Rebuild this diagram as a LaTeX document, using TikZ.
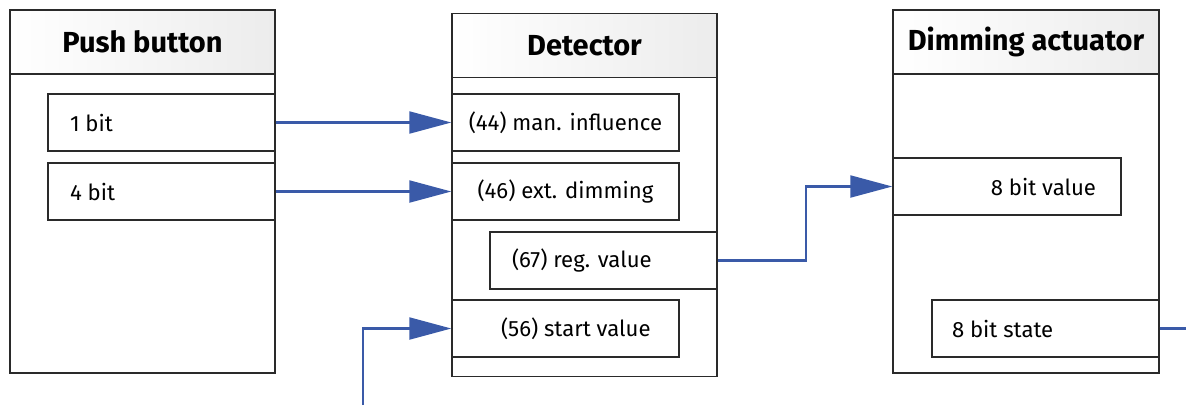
\documentclass[tikz,border=0pt]{standalone}
\usepackage{fontspec}
\setmainfont{Fira Sans}
\usepackage{tikz}
\usetikzlibrary{arrows.meta,calc}
\definecolor{flowblue}{HTML}{3a5aa8}
\definecolor{framegray}{HTML}{2a2a2a}
\definecolor{headgray}{HTML}{ececec}

\begin{document}
\begin{tikzpicture}[
    line width=0.8pt,
    unit/.style={draw=framegray, rectangle, minimum width=5.3cm, minimum height=7.26cm, inner sep=0pt},
    head/.style={draw=framegray, rectangle, left color=white, right color=headgray,
                 minimum width=5.3cm, minimum height=1.28cm, anchor=north,
                 font=\fontsize{16.5}{18}\selectfont\bfseries},
    port/.style={draw=framegray, fill=white, rectangle, minimum width=4.54cm, minimum height=1.14cm, inner sep=0pt},
    portlbl/.style={font=\fontsize{12.6}{15}\selectfont, inner sep=0pt},
    flow/.style={draw=flowblue, line width=1.2pt, -{Triangle[length=0.84cm,width=0.44cm]}}
  ]
\useasboundingbox (0,0) rectangle (23.72,-8.1);

% ---------------- left: push button ---------------------------------------
\node[unit] (pb) at (2.85,-3.83) {};
\node[head] (pbh) at (pb.north) {Push button};
\node[port] (p1) at (3.23,-2.45) {};
\node[port] (p4) at (3.23,-3.83) {};
\node[portlbl, anchor=west] at ([xshift=0.44cm]p1.west) {1 bit};
\node[portlbl, anchor=west] at ([xshift=0.44cm]p4.west) {4 bit};

% ---------------- middle: detector ----------------------------------------
\node[unit] (det) at (11.69,-3.90) {};
\node[head] (deth) at (det.north) {Detector};
\node[port] (p44) at (11.31,-2.45) {};
\node[port] (p46) at (11.31,-3.83) {};
\node[port] (p67) at (12.07,-5.21) {};
\node[port] (p56) at (11.31,-6.57) {};
\node[portlbl] at (p44.center) {(44) man. influence};
\node[portlbl] at (p46.center) {(46) ext. dimming};
\node[portlbl, anchor=west] at ([xshift=0.44cm]p67.west) {(67) reg. value};
\node[portlbl, anchor=west] at ([xshift=0.98cm]p56.west) {(56) start value};

% ---------------- right: dimming actuator ---------------------------------
\node[unit, minimum width=5.32cm] (dim) at (20.52,-3.83) {};
\node[head, minimum width=5.32cm] (dimh) at (dim.north) {Dimming actuator};
\node[port, minimum width=4.56cm] (p8v) at (20.14,-3.73) {};
\node[port] (p8s) at (20.91,-6.57) {};
\node[portlbl, anchor=east] at ([xshift=-0.5cm]p8v.east) {8 bit value};
\node[portlbl, anchor=west] at ([xshift=0.4cm]p8s.west) {8 bit state};

% ---------------- connectors ----------------------------------------------
\coordinate (inS) at (7.26,-8.1);
\coordinate (outS) at (23.72,-6.57);
\draw[flow] (p1.east) -- (p44.west);
\draw[flow] (p4.east) -- (p46.west);
\draw[flow] (inS) |- (p56.west);
\draw[flow] (p67.east) -- ++(1.76,0) |- (p8v.west);
\draw[flow, -] (p8s.east) -- (outS);

\end{tikzpicture}
\end{document}
